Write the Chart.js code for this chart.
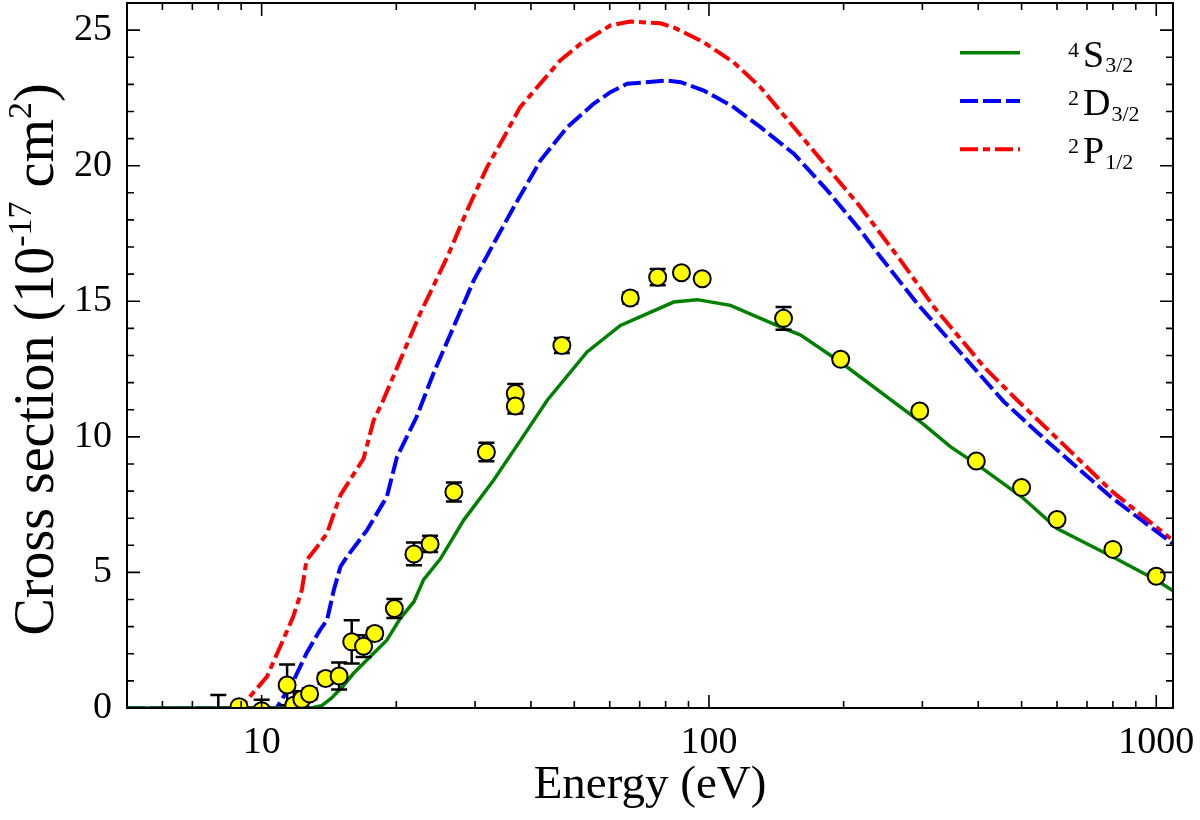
<!DOCTYPE html>
<html><head><meta charset="utf-8">
<script src="https://cdn.jsdelivr.net/npm/chart.js@4.4.1/dist/chart.umd.min.js"></script>
<style>html,body{margin:0;padding:0;background:#fff;} #wrap{width:1200px;height:820px;}</style>
</head><body><div id="wrap"><canvas id="c" width="1200" height="820"></canvas></div>
<script>
// ---- tick labels / tick positions ----
const xTickValues = [10, 100, 1000];
const xMinorTicks = [6, 7, 8, 9, 20, 30, 40, 50, 60, 70, 80, 90, 200, 300, 400, 500, 600, 700, 800, 900];
const yTickValues = [0, 5, 10, 15, 20, 25];
const yMinorTicks = [1, 2, 3, 4, 6, 7, 8, 9, 11, 12, 13, 14, 16, 17, 18, 19, 21, 22, 23, 24];

// ---- 4S3/2 (green, solid) ----
const energyS = [5, 12.9, 13.6, 14.3, 15.2, 16.05, 17.5, 19.05, 20.4, 21.9, 23.0, 25.1, 28.3, 33.0, 37.9, 43.5, 53.4, 63.4, 83.4, 94.1, 111.7, 147, 160, 197, 300, 347, 400, 500, 600, 800, 1000, 1090];
const sigmaS  = [0, 0, 0.08, 0.35, 0.8, 1.28, 1.9, 2.5, 3.3, 3.92, 4.72, 5.5, 6.93, 8.4, 9.87, 11.35, 13.13, 14.11, 14.97, 15.06, 14.85, 14.0, 13.76, 12.75, 10.5, 9.63, 8.95, 7.79, 6.62, 5.57, 4.72, 4.32];

// ---- 2D3/2 (blue, dashed) ----
const energyD = [5, 10.8, 11.8, 12.6, 13.5, 14.0, 14.5, 15.0, 15.5, 17.2, 19.05, 20.07, 22.2, 24.2, 26.85, 29.8, 33.0, 36.6, 42.0, 48.2, 55.2, 60.2, 65.6, 80.6, 86.4, 97.4, 113.6, 130.4, 154.8, 183.9, 218.3, 241.9, 292.4, 378, 456.7, 561, 791, 1086];
const sigmaD  = [0, 0, 1.03, 2.02, 2.87, 3.24, 4.35, 5.21, 5.57, 6.56, 7.79, 9.26, 10.73, 12.33, 14.05, 15.77, 17.12, 18.47, 20.19, 21.42, 22.28, 22.71, 23.02, 23.14, 23.08, 22.77, 22.16, 21.42, 20.44, 19.09, 17.61, 16.63, 14.91, 12.82, 11.29, 9.94, 7.79, 6.07];

// ---- 2P1/2 (red, dash-dot) ----
const energyP = [5, 8.95, 9.27, 10.27, 11.0, 11.76, 12.3, 12.6, 13.3, 14.0, 15.0, 16.9, 17.8, 18.7, 20.4, 22.6, 26.0, 28.8, 31.9, 34.8, 37.8, 46.5, 51.6, 60.2, 66.7, 77.9, 83.4, 97.4, 113.6, 130.4, 154.8, 183.9, 218.3, 268.2, 318.4, 412, 489, 600.5, 791, 1076];
const sigmaP  = [0, 0, 0.29, 1.15, 2.26, 3.36, 4.35, 5.45, 5.94, 6.44, 7.85, 9.2, 10.61, 11.35, 12.82, 14.54, 16.63, 18.35, 19.94, 21.05, 22.15, 23.88, 24.49, 25.17, 25.32, 25.25, 25.10, 24.55, 23.81, 22.89, 21.42, 19.94, 18.47, 16.51, 14.79, 12.58, 11.35, 9.94, 8.03, 6.25];

// ---- experiment (yellow circles with error bars) ----
const expEnergy = [8, 8.9, 10, 11.4, 11.8, 12.3, 12.8, 13.9, 14.9, 15.9, 16.9, 17.9, 19.8, 21.9, 23.8, 26.9, 31.8, 36.9, 36.9, 46.9, 66.7, 76.8, 86.8, 96.6, 146.8, 197, 296, 396, 500, 600, 800, 1000];
const expSigma  = [-0.35, 0.05, -0.1, 0.85, 0.1, 0.32, 0.52, 1.09, 1.18, 2.44, 2.28, 2.75, 3.67, 5.68, 6.05, 7.97, 9.44, 11.6, 11.14, 13.37, 15.12, 15.89, 16.05, 15.83, 14.37, 12.86, 10.95, 9.11, 8.13, 6.95, 5.85, 4.86];
const expError  = [0.83, 0.1, 0.4, 0.75, 0.5, 0.3, 0.2, 0.2, 0.5, 0.8, 0.4, 0.2, 0.35, 0.42, 0.3, 0.35, 0.34, 0.35, 0.28, 0.28, 0.2, 0.3, 0.15, 0.15, 0.42, 0.15, 0.15, 0.1, 0.1, 0.1, 0.1, 0.1];

const legendRows = [
  {sup: '4', main: 'S', sub: '3/2', color: '#008000', dash: []},
  {sup: '2', main: 'D', sub: '3/2', color: '#0000ff', dash: [18, 5]},
  {sup: '2', main: 'P', sub: '1/2', color: '#ff0000', dash: [18, 5, 7, 5]}
];

const SERIF = '"Liberation Serif", serif';
const pts = (xs, ys) => xs.map((e, i) => ({x: e, y: ys[i]}));
const noPad = s => { s.paddingTop = 0; s.paddingBottom = 0; s.paddingLeft = 0; s.paddingRight = 0; };

const decor = {
  id: 'decor',
  beforeDatasetDraw(chart, args) {
    if (args.index !== 3) return;
    const {ctx, chartArea: a, scales: {x, y}} = chart;
    ctx.save();
    ctx.beginPath(); ctx.rect(a.left, a.top, a.right - a.left, a.bottom - a.top); ctx.clip();
    ctx.strokeStyle = '#000'; ctx.lineWidth = 2.5; ctx.setLineDash([]);
    expEnergy.forEach((e, i) => {
      const px = x.getPixelForValue(e);
      const yTop = y.getPixelForValue(expSigma[i] + expError[i]);
      const yBot = y.getPixelForValue(expSigma[i] - expError[i]);
      ctx.beginPath();
      ctx.moveTo(px, yBot); ctx.lineTo(px, yTop);
      ctx.moveTo(px - 8, yTop); ctx.lineTo(px + 8, yTop);
      ctx.moveTo(px - 8, yBot); ctx.lineTo(px + 8, yBot);
      ctx.stroke();
    });
    ctx.restore();
  },
  afterDraw(chart) {
    const {ctx, chartArea: a, scales: {x, y}} = chart;
    ctx.save();
    ctx.setLineDash([]);
    ctx.strokeStyle = '#000';
    // ticks (inward, mirrored)
    ctx.lineWidth = 1.6;
    const xt = (v, len) => { const p = x.getPixelForValue(v); ctx.beginPath(); ctx.moveTo(p, a.bottom); ctx.lineTo(p, a.bottom - len); ctx.moveTo(p, a.top); ctx.lineTo(p, a.top + len); ctx.stroke(); };
    const yt = (v, len) => { const p = y.getPixelForValue(v); ctx.beginPath(); ctx.moveTo(a.left, p); ctx.lineTo(a.left + len, p); ctx.moveTo(a.right, p); ctx.lineTo(a.right - len, p); ctx.stroke(); };
    xTickValues.forEach(v => xt(v, 13)); xMinorTicks.forEach(v => xt(v, 7));
    yTickValues.forEach(v => yt(v, 13)); yMinorTicks.forEach(v => yt(v, 7));
    // frame
    ctx.lineWidth = 2;
    ctx.strokeRect(a.left, a.top, a.right - a.left, a.bottom - a.top);

    ctx.fillStyle = '#000';
    // x title
    ctx.font = '47px ' + SERIF; ctx.textAlign = 'center'; ctx.textBaseline = 'alphabetic';
    ctx.fillText('Energy (eV)', (a.left + a.right) / 2, 798);
    // y title (rich text)
    const segs = [
      {t: 'Cross section (10', s: 56, dy: 0},
      {t: '-17', s: 34, dy: -22},
      {t: ' cm', s: 56, dy: 0},
      {t: '2', s: 34, dy: -22},
      {t: ')', s: 56, dy: 0}
    ];
    ctx.textAlign = 'left';
    let total = 0;
    segs.forEach(sg => { ctx.font = sg.s + 'px ' + SERIF; sg.w = ctx.measureText(sg.t).width; total += sg.w; });
    ctx.translate(53, (a.top + a.bottom) / 2 + 4);
    ctx.rotate(-Math.PI / 2);
    let cx = -total / 2;
    segs.forEach(sg => { ctx.font = sg.s + 'px ' + SERIF; ctx.fillText(sg.t, cx, sg.dy); cx += sg.w; });
    ctx.setTransform(1, 0, 0, 1, 0, 0);

    // legend
    legendRows.forEach((r, i) => {
      const ly = 52.7 + i * 48.3;
      const base = ly + 14;
      ctx.strokeStyle = r.color; ctx.lineWidth = r.dash.length ? 4 : 3.5;
      ctx.setLineDash(r.dash);
      ctx.beginPath(); ctx.moveTo(960, ly); ctx.lineTo(1020, ly); ctx.stroke();
      ctx.setLineDash([]);
      ctx.fillStyle = '#000'; ctx.textAlign = 'left';
      ctx.font = '22px ' + SERIF; ctx.fillText(r.sup, 1068, base - 10);
      ctx.font = '38px ' + SERIF; ctx.fillText(r.main, 1083, base);
      const mw = ctx.measureText(r.main).width;
      ctx.font = '22px ' + SERIF; ctx.fillText(r.sub, 1083 + mw + 1, base + 5.6);
    });
    ctx.restore();
  }
};

new Chart(document.getElementById('c'), {
  type: 'scatter',
  data: {
    datasets: [
      {label: '4S3/2', data: pts(energyS, sigmaS), showLine: true, borderColor: '#008000', borderWidth: 3.5, pointRadius: 0, fill: false, order: 1, clip: 0},
      {label: '2D3/2', data: pts(energyD, sigmaD), showLine: true, borderColor: '#0000ff', borderWidth: 4, borderDash: [18, 5], pointRadius: 0, fill: false, order: 1, clip: 0},
      {label: '2P1/2', data: pts(energyP, sigmaP), showLine: true, borderColor: '#ff0000', borderWidth: 4, borderDash: [18, 5, 7, 5], pointRadius: 0, fill: false, order: 1, clip: 0},
      {label: 'Experiment', data: pts(expEnergy, expSigma), showLine: false, pointRadius: 8.5, pointBackgroundColor: '#ffff00', pointBorderColor: '#000', pointBorderWidth: 2, order: 0, clip: 0}
    ]
  },
  options: {
    responsive: false, animation: false, devicePixelRatio: 1,
    layout: {autoPadding: false, padding: {left: 0, right: 27, top: 3, bottom: 0}},
    plugins: {legend: {display: false}, tooltip: {enabled: false}},
    scales: {
      x: {
        type: 'logarithmic', min: 5, max: 1090,
        grid: {display: false, drawTicks: false}, border: {display: false},
        afterBuildTicks: s => { s.ticks = xTickValues.map(v => ({value: v})); },
        afterFit: s => { s.height = 112; noPad(s); },
        ticks: {autoSkip: false, maxRotation: 0, minRotation: 0, padding: 12, color: '#000',
          font: {family: SERIF, size: 38}, callback: v => String(v)}
      },
      y: {
        type: 'linear', min: 0, max: 26,
        grid: {display: false, drawTicks: false}, border: {display: false},
        afterBuildTicks: s => { s.ticks = yTickValues.map(v => ({value: v})); },
        afterFit: s => { s.width = 127; noPad(s); },
        ticks: {padding: 15, color: '#000', font: {family: SERIF, size: 38}, callback: v => String(v)}
      }
    }
  },
  plugins: [decor]
});
</script></body></html>
